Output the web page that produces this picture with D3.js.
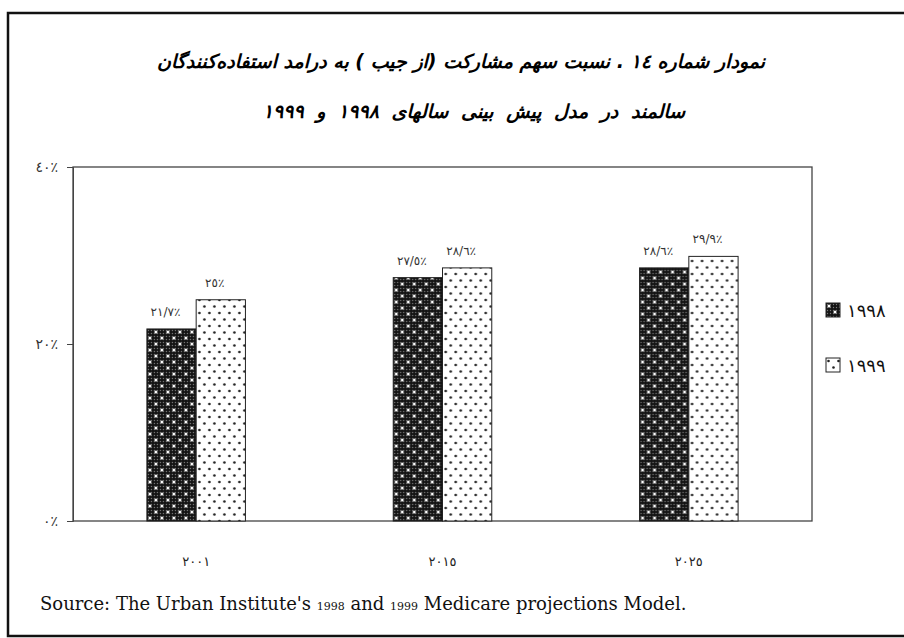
<!DOCTYPE html>
<html>
<head>
<meta charset="utf-8">
<script src="https://cdnjs.cloudflare.com/ajax/libs/d3/7.8.5/d3.min.js"></script>
<style>
  body { margin: 0; background: #fff; }
  svg { display: block; }
</style>
</head>
<body>
<div id="chart"></div>
<script>
////////////////////////////////
/* - OUT OF POCKET SHARE BARS - */
////////////////////////////////

var years = ["2001", "2015", "2025"];
var seriesNames = ["1998", "1999"];
var values1998 = [21.7, 27.5, 28.6];
var values1999 = [25, 28.6, 29.9];
var yTicks = [0, 20, 40];

var titleLine1 = "نمودار شماره ١٤ . نسبت سهم مشارکت (از جیب ) به درامد استفاده‌کنندگان";
var titleLine2 = "سالمند در مدل پیش بینی سالهای ١٩٩٨ و ١٩٩٩";

var W = 904, H = 638;
var margin = { top: 167, right: 92, bottom: 117, left: 73 };
var width = W - margin.left - margin.right;
var height = H - margin.top - margin.bottom;
var arFont = "'DejaVu Sans', sans-serif";

//latin digits -> arabic-indic, decimal point -> slash
function toAr(s) {
  return String(s).replace(/[0-9]/g, function (d) {
    return String.fromCharCode(0x0660 + +d);
  }).replace(".", "/");
}

var svg = d3.select("#chart")
  .append("svg")
  .attr("width", W)
  .attr("height", H);

//Fill patterns
var defs = svg.append("defs");
var fine = defs.append("pattern")
  .attr("id", "fine")
  .attr("patternUnits", "userSpaceOnUse")
  .attr("width", 3).attr("height", 3);
fine.append("rect").attr("width", 3).attr("height", 3).attr("fill", "#141414");
fine.append("circle").attr("cx", 1.5).attr("cy", 1.5).attr("r", 0.7).attr("fill", "#7a7a7a");

var dark = defs.append("pattern")
  .attr("id", "darkDots")
  .attr("patternUnits", "userSpaceOnUse")
  .attr("width", 12).attr("height", 12);
dark.append("rect").attr("width", 12).attr("height", 12).attr("fill", "url(#fine)");
dark.append("circle").attr("cx", 3).attr("cy", 3).attr("r", 1.5).attr("fill", "#fff");
dark.append("circle").attr("cx", 9).attr("cy", 9).attr("r", 1.5).attr("fill", "#fff");

var light = defs.append("pattern")
  .attr("id", "lightDots")
  .attr("patternUnits", "userSpaceOnUse")
  .attr("width", 10).attr("height", 13);
light.append("rect").attr("width", 10).attr("height", 13).attr("fill", "#fff");
light.append("circle").attr("cx", 2.5).attr("cy", 3).attr("r", 1.3).attr("fill", "#222");
light.append("circle").attr("cx", 7.5).attr("cy", 9.5).attr("r", 1.3).attr("fill", "#222");

var fills = { "1998": "url(#darkDots)", "1999": "url(#lightDots)" };

//Outer frame (right edge runs off the page)
svg.append("path")
  .attr("d", "M908,13 L8,13 L8,636 L908,636")
  .attr("fill", "none")
  .attr("stroke", "#111")
  .attr("stroke-width", 2.5);

//Title
svg.append("text")
  .attr("x", 461).attr("y", 68)
  .attr("direction", "rtl")
  .style("text-anchor", "middle")
  .style("font-family", arFont)
  .style("font-size", "19px")
  .style("font-weight", "bold")
  .style("font-style", "italic")
  .text(titleLine1);
svg.append("text")
  .attr("x", 474).attr("y", 118)
  .attr("direction", "rtl")
  .style("text-anchor", "middle")
  .style("font-family", arFont)
  .style("font-size", "19px")
  .style("font-weight", "bold")
  .style("font-style", "italic")
  .style("word-spacing", "6px")
  .text(titleLine2);

var g = svg.append("g")
  .attr("transform", "translate(" + margin.left + "," + margin.top + ")");

var x0 = d3.scaleBand()
  .domain(years)
  .range([0, width])
  .paddingInner(0.6)
  .paddingOuter(0.3);
var x1 = d3.scaleBand()
  .domain(seriesNames)
  .range([0, x0.bandwidth()]);
var y = d3.scaleLinear()
  .domain([0, 40])
  .range([height, 0]);

//Plot box
g.append("rect")
  .attr("width", width).attr("height", height)
  .attr("fill", "none")
  .attr("stroke", "#444")
  .attr("stroke-width", 1.3);

//Y axis
var yAxis = g.append("g")
  .call(d3.axisLeft(y).tickValues(yTicks).tickSize(6).tickPadding(9)
    .tickFormat(function (d) { return toAr(d) + "٪"; }));
yAxis.select(".domain").attr("stroke", "#444");
yAxis.selectAll("line").attr("stroke", "#444");
yAxis.selectAll("text")
  .style("font-family", arFont)
  .style("font-size", "14px")
  .attr("fill", "#333");

//X labels
g.append("g")
  .attr("transform", "translate(0," + height + ")")
  .call(d3.axisBottom(x0).tickSize(0).tickPadding(36).tickFormat(toAr))
  .call(function (a) { a.select(".domain").remove(); })
  .selectAll("text")
  .style("font-family", arFont)
  .style("font-size", "13px")
  .attr("fill", "#222");

var data = years.map(function (yr, i) {
  return { year: yr, vals: [
    { s: "1998", v: values1998[i] },
    { s: "1999", v: values1999[i] }
  ] };
});

var groups = g.selectAll(".grp")
  .data(data)
  .enter().append("g")
  .attr("class", "grp")
  .attr("transform", function (d) { return "translate(" + x0(d.year) + ",0)"; });

groups.selectAll("rect")
  .data(function (d) { return d.vals; })
  .enter().append("rect")
  .attr("x", function (d) { return x1(d.s); })
  .attr("y", function (d) { return y(d.v); })
  .attr("width", x1.bandwidth())
  .attr("height", function (d) { return height - y(d.v); })
  .attr("fill", function (d) { return fills[d.s]; })
  .attr("stroke", "#222")
  .attr("stroke-width", 1);

//Value labels
groups.selectAll(".val")
  .data(function (d) { return d.vals; })
  .enter().append("text")
  .attr("class", "val")
  .attr("x", function (d) { return x1(d.s) + x1.bandwidth() / 2 - 6; })
  .attr("y", function (d) { return y(d.v) - 13; })
  .style("text-anchor", "middle")
  .style("font-family", arFont)
  .style("font-size", "12px")
  .attr("fill", "#333")
  .text(function (d) { return toAr(d.v) + "٪"; });

//Legend
var legend = svg.selectAll(".leg")
  .data(seriesNames)
  .enter().append("g")
  .attr("class", "leg")
  .attr("transform", function (d, i) { return "translate(826," + (303 + i * 55) + ")"; });
legend.append("rect")
  .attr("width", 14).attr("height", 14)
  .attr("fill", function (d) { return fills[d]; })
  .attr("stroke", "#222");
legend.append("text")
  .attr("x", 21).attr("y", 14)
  .style("font-family", arFont)
  .style("font-size", "18px")
  .attr("fill", "#111")
  .text(toAr);

//Source note
var src = svg.append("text")
  .attr("x", 40).attr("y", 610)
  .style("font-family", "'DejaVu Serif', serif")
  .style("font-size", "18px")
  .attr("fill", "#111");
src.append("tspan").text("Source: The Urban Institute's ");
src.append("tspan").style("font-size", "11px").text("1998");
src.append("tspan").text(" and ");
src.append("tspan").style("font-size", "11px").text("1999");
src.append("tspan").text("  Medicare projections Model.");
</script>
</body>
</html>
